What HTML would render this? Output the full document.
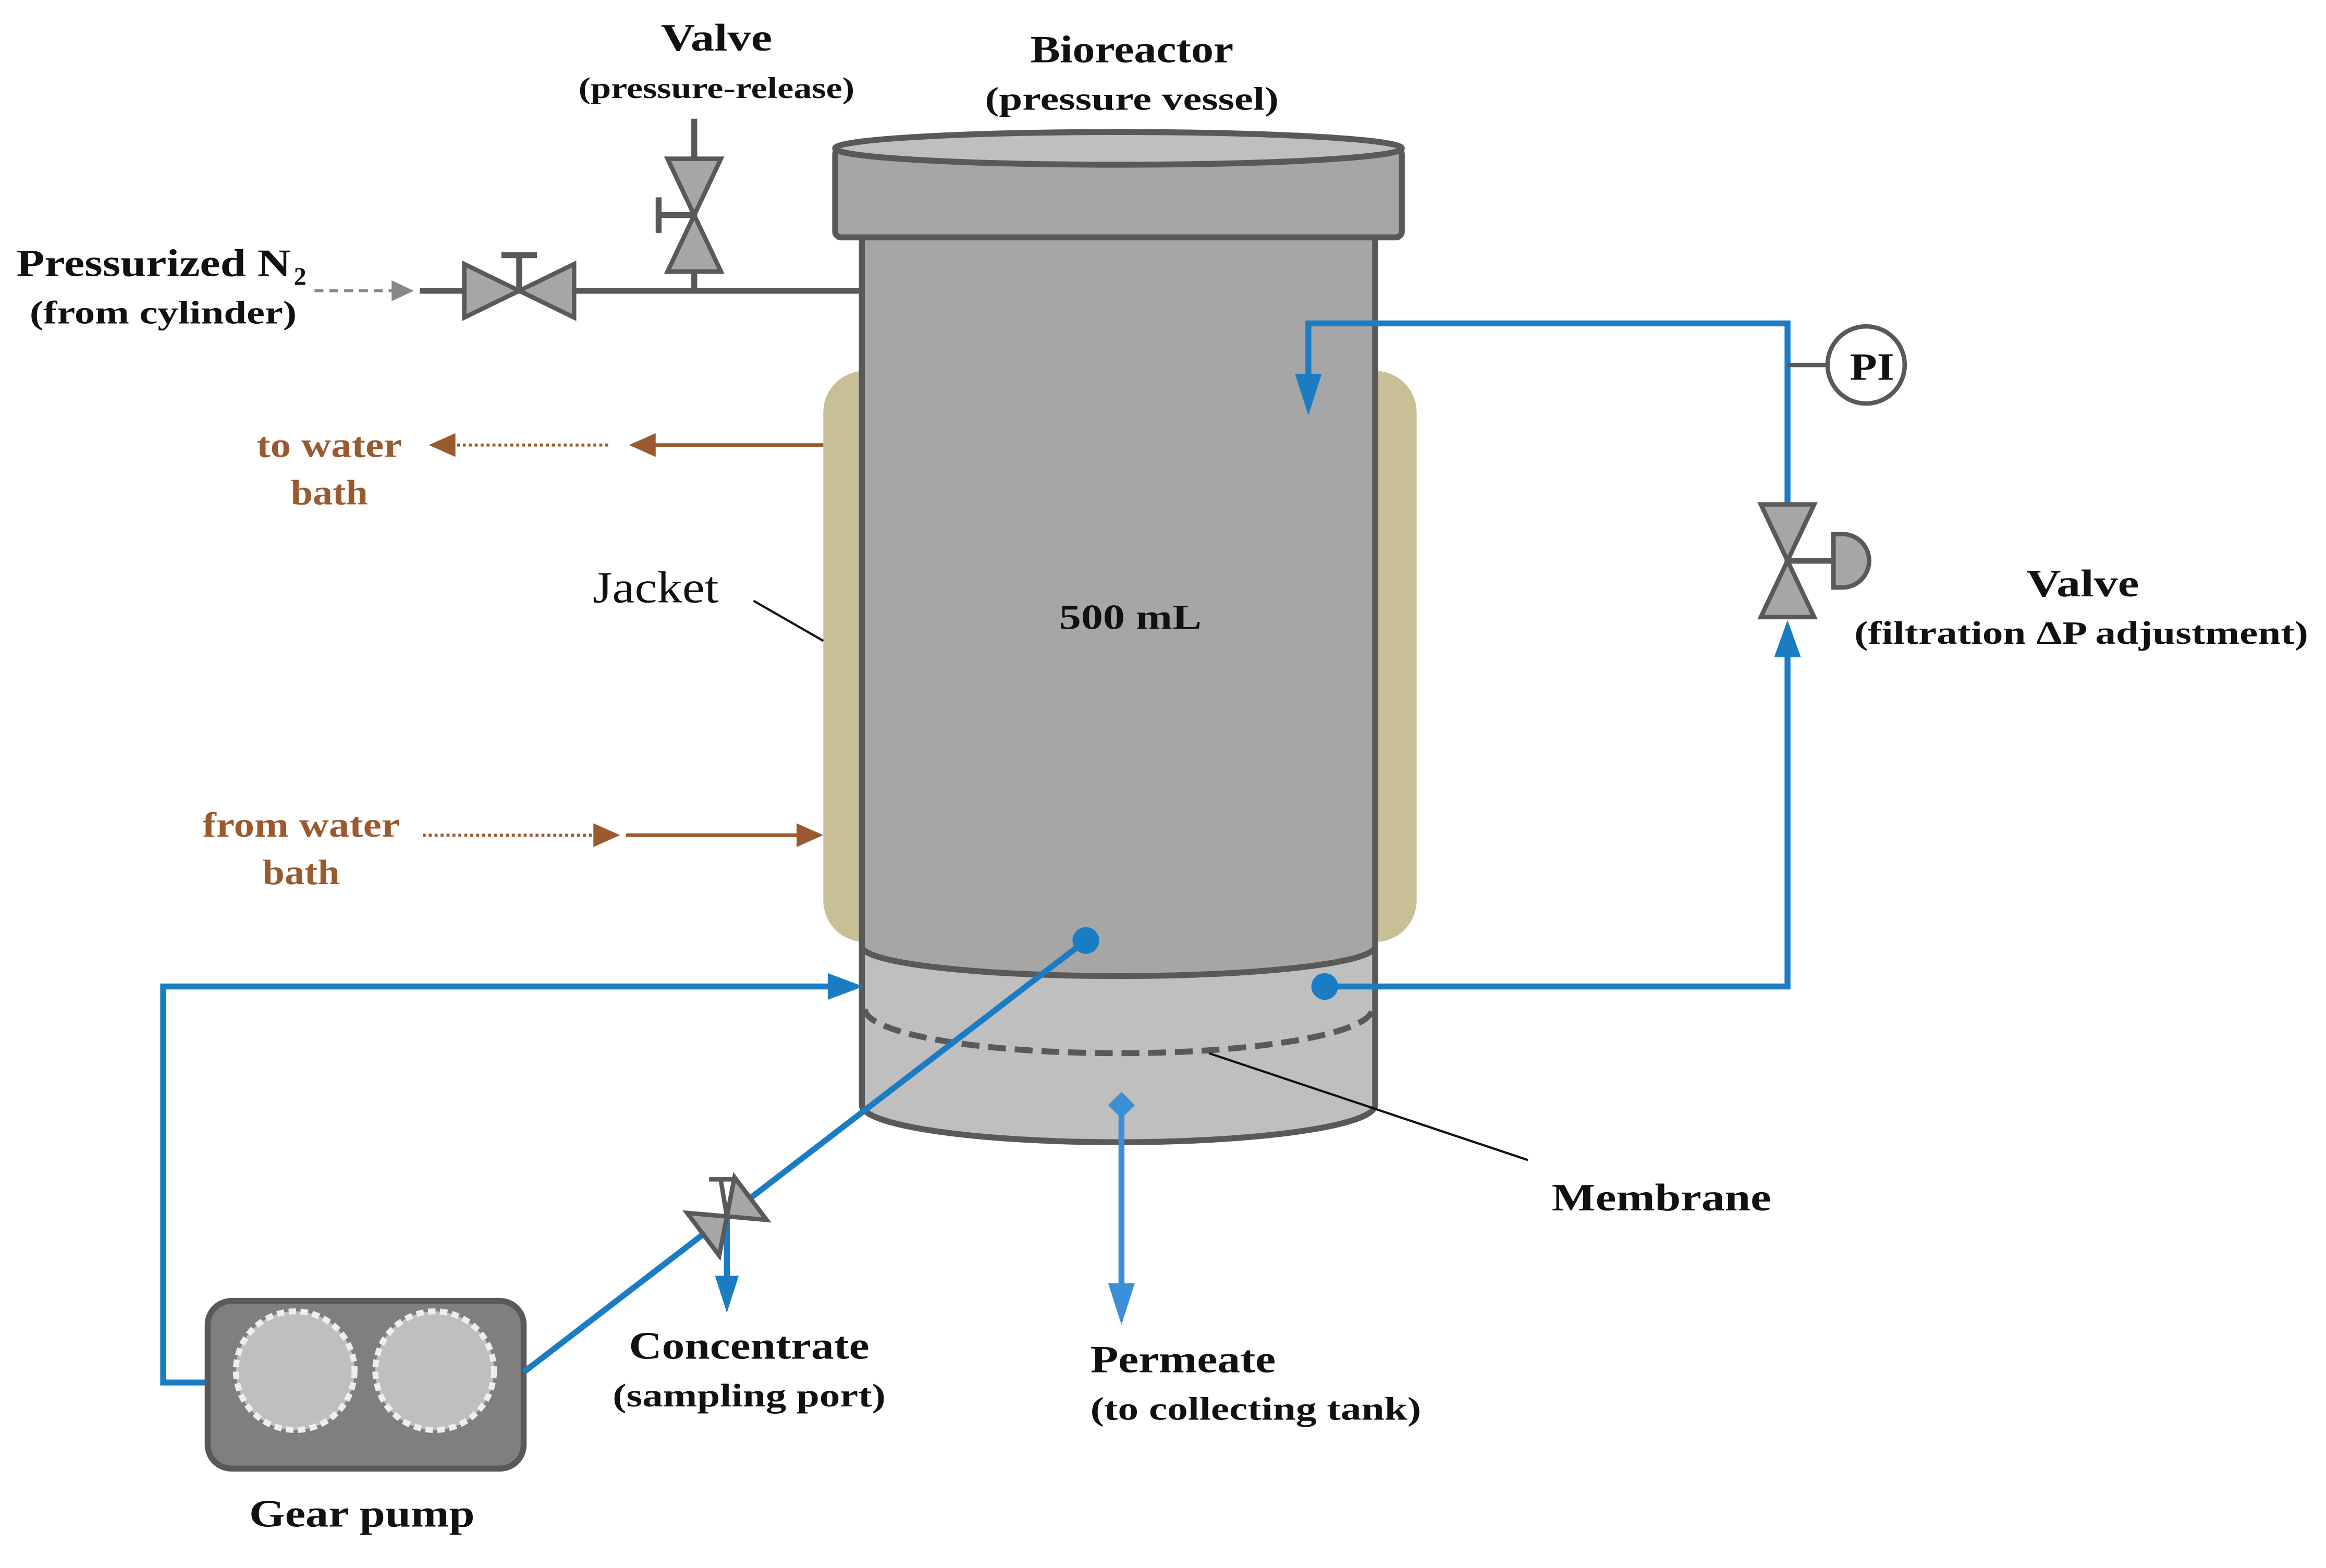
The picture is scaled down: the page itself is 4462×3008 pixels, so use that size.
<!DOCTYPE html>
<html><head><meta charset="utf-8"><style>
html,body{margin:0;padding:0;background:#fff;}
svg{display:block;}
text{font-family:"Liberation Serif",serif;font-weight:bold;fill:#111;}
</style></head><body>
<svg width="4462" height="3008" viewBox="0 0 1568 1057" xmlns="http://www.w3.org/2000/svg">
<rect width="1568" height="1057" fill="#fff"/>
<rect x="555" y="250" width="400" height="385" rx="28" ry="28" fill="#c8bf97"/>
<path d="M581,640 L581,745 A173,25 0 0 0 927,745 L927,640 Z" fill="#bfbfbf" stroke="#595959" stroke-width="4"/>
<path d="M581,155 L581,638 A173,20 0 0 0 927,638 L927,155 Z" fill="#a6a6a6" stroke="#595959" stroke-width="4"/>
<path d="M583,680 A171,30 0 0 0 925,680" fill="none" stroke="#595959" stroke-width="4" stroke-dasharray="12,6"/>
<rect x="563" y="100" width="382" height="60" rx="4" fill="#a6a6a6" stroke="#595959" stroke-width="4"/>
<ellipse cx="754" cy="100" rx="191" ry="11" fill="#bfbfbf" stroke="#595959" stroke-width="4"/>
<text x="762" y="424" font-size="24" text-anchor="middle" textLength="96" lengthAdjust="spacingAndGlyphs">500 mL</text>
<line x1="283" y1="196" x2="581" y2="196" stroke="#595959" stroke-width="4"/>
<line x1="468" y1="196" x2="468" y2="80" stroke="#595959" stroke-width="4"/>
<path d="M313,178 L313,214 L350,196 Z M387,178 L387,214 L350,196 Z" fill="#a6a6a6" stroke="#595959" stroke-width="3"/>
<line x1="350" y1="196" x2="350" y2="172" stroke="#595959" stroke-width="4"/>
<line x1="338" y1="172" x2="362" y2="172" stroke="#595959" stroke-width="4"/>
<path d="M450,107 L486,107 L468,145 Z M450,183 L486,183 L468,145 Z" fill="#a6a6a6" stroke="#595959" stroke-width="3"/>
<line x1="468" y1="145" x2="444" y2="145" stroke="#595959" stroke-width="4"/>
<line x1="444" y1="133" x2="444" y2="157" stroke="#595959" stroke-width="4"/>
<line x1="212" y1="196" x2="266" y2="196" stroke="#888" stroke-width="2" stroke-dasharray="6,4"/>
<path d="M264,189 L279,196 L264,203 Z" fill="#888"/>
<polyline points="893,665 1205,665 1205,440" fill="none" stroke="#1a7dc4" stroke-width="4"/>
<path d="M1196,443 L1205,418 L1214,443 Z" fill="#1a7dc4"/>
<polyline points="1205,400 1205,218 882,218 882,255" fill="none" stroke="#1a7dc4" stroke-width="4"/>
<path d="M873,252 L882,280 L891,252 Z" fill="#1a7dc4"/>
<circle cx="893" cy="665" r="9" fill="#1a7dc4"/>
<path d="M1187,340 L1223,340 L1205,378 Z M1187,416 L1223,416 L1205,378 Z" fill="#a6a6a6" stroke="#595959" stroke-width="3"/>
<line x1="1205" y1="378" x2="1236" y2="378" stroke="#595959" stroke-width="4"/>
<path d="M1236,360 L1242,360 A18,18 0 0 1 1242,396 L1236,396 Z" fill="#a6a6a6" stroke="#595959" stroke-width="3"/>
<line x1="1205" y1="246" x2="1232" y2="246" stroke="#595959" stroke-width="3"/>
<circle cx="1258" cy="246" r="26" fill="#fff" stroke="#595959" stroke-width="3"/>
<text x="1262" y="256" font-size="26" text-anchor="middle" textLength="30" lengthAdjust="spacingAndGlyphs">PI</text>
<polyline points="140,932 110,932 110,665 560,665" fill="none" stroke="#1a7dc4" stroke-width="4"/>
<path d="M558,656 L582,665 L558,674 Z" fill="#1a7dc4"/>
<rect x="140" y="877" width="213" height="113" rx="16" fill="#7f7f7f" stroke="#595959" stroke-width="4"/>
<circle cx="199" cy="924" r="40" fill="#bfbfbf" stroke="#eee" stroke-width="4" stroke-dasharray="5,3"/>
<circle cx="293" cy="924" r="40" fill="#bfbfbf" stroke="#eee" stroke-width="4" stroke-dasharray="5,3"/>
<line x1="353" y1="925" x2="732" y2="634" stroke="#1a7dc4" stroke-width="4"/>
<circle cx="732" cy="634" r="9" fill="#1a7dc4"/>
<line x1="490" y1="820" x2="490" y2="862" stroke="#1a7dc4" stroke-width="4"/>
<path d="M482,860 L490,885 L498,860 Z" fill="#1a7dc4"/>
<g transform="translate(490,820) rotate(-37)">
<path d="M-20,-18 L-20,18 L0,0 Z M20,-18 L20,18 L0,0 Z" fill="#a6a6a6" stroke="#595959" stroke-width="3"/>
</g>
<line x1="490" y1="820" x2="486" y2="796" stroke="#595959" stroke-width="3"/>
<line x1="478" y1="795" x2="496" y2="795" stroke="#595959" stroke-width="3"/>
<line x1="756" y1="745" x2="756" y2="870" stroke="#3b8fd8" stroke-width="4"/>
<path d="M747,865 L756,893 L765,865 Z" fill="#3b8fd8"/>
<path d="M756,736 L765,745 L756,754 L747,745 Z" fill="#3b8fd8"/>
<line x1="555" y1="300" x2="440" y2="300" stroke="#9a5a2e" stroke-width="2.5"/>
<path d="M442,292 L424,300 L442,308 Z" fill="#9a5a2e"/>
<line x1="410" y1="300" x2="305" y2="300" stroke="#9a5a2e" stroke-width="2" stroke-dasharray="2,2"/>
<path d="M307,292 L289,300 L307,308 Z" fill="#9a5a2e"/>
<line x1="285" y1="563" x2="400" y2="563" stroke="#9a5a2e" stroke-width="2" stroke-dasharray="2,2"/>
<path d="M400,555 L418,563 L400,571 Z" fill="#9a5a2e"/>
<line x1="422" y1="563" x2="538" y2="563" stroke="#9a5a2e" stroke-width="2.5"/>
<path d="M537,555 L555,563 L537,571 Z" fill="#9a5a2e"/>
<line x1="508" y1="405" x2="555" y2="432" stroke="#111" stroke-width="1.5"/>
<line x1="815" y1="710" x2="1030" y2="782" stroke="#111" stroke-width="1.5"/>
<text x="483" y="34" font-size="26" text-anchor="middle" textLength="75" lengthAdjust="spacingAndGlyphs">Valve</text>
<text x="483" y="66" font-size="20" text-anchor="middle" textLength="186" lengthAdjust="spacingAndGlyphs">(pressure-release)</text>
<text x="763" y="42" font-size="26" text-anchor="middle" textLength="137" lengthAdjust="spacingAndGlyphs">Bioreactor</text>
<text x="763" y="74" font-size="22" text-anchor="middle" textLength="198" lengthAdjust="spacingAndGlyphs">(pressure vessel)</text>
<text x="11" y="186" font-size="26" textLength="185" lengthAdjust="spacingAndGlyphs">Pressurized N</text>
<text x="198" y="192" font-size="17">2</text>
<text x="110" y="218" font-size="22" text-anchor="middle" textLength="180" lengthAdjust="spacingAndGlyphs">(from cylinder)</text>
<text x="222" y="308" font-size="24" text-anchor="middle" style="fill:#9a5a2e" textLength="98" lengthAdjust="spacingAndGlyphs">to water</text>
<text x="222" y="340" font-size="24" text-anchor="middle" style="fill:#9a5a2e" textLength="52" lengthAdjust="spacingAndGlyphs">bath</text>
<text x="203" y="564" font-size="24" text-anchor="middle" style="fill:#9a5a2e" textLength="133" lengthAdjust="spacingAndGlyphs">from water</text>
<text x="203" y="596" font-size="24" text-anchor="middle" style="fill:#9a5a2e" textLength="52" lengthAdjust="spacingAndGlyphs">bath</text>
<text x="442" y="406" font-size="30" text-anchor="middle" style="font-weight:normal" textLength="85" lengthAdjust="spacingAndGlyphs">Jacket</text>
<text x="1404" y="402" font-size="26" text-anchor="middle" textLength="76" lengthAdjust="spacingAndGlyphs">Valve</text>
<text x="1403" y="434" font-size="22" text-anchor="middle" textLength="306" lengthAdjust="spacingAndGlyphs">(filtration ΔP adjustment)</text>
<text x="1120" y="816" font-size="26" text-anchor="middle" textLength="148" lengthAdjust="spacingAndGlyphs">Membrane</text>
<text x="505" y="916" font-size="26" text-anchor="middle" textLength="162" lengthAdjust="spacingAndGlyphs">Concentrate</text>
<text x="505" y="948" font-size="22" text-anchor="middle" textLength="184" lengthAdjust="spacingAndGlyphs">(sampling port)</text>
<text x="735" y="925" font-size="26" textLength="125" lengthAdjust="spacingAndGlyphs">Permeate</text>
<text x="735" y="957" font-size="22" textLength="223" lengthAdjust="spacingAndGlyphs">(to collecting tank)</text>
<text x="244" y="1029" font-size="26" text-anchor="middle" textLength="152" lengthAdjust="spacingAndGlyphs">Gear pump</text>
</svg>
</body></html>
